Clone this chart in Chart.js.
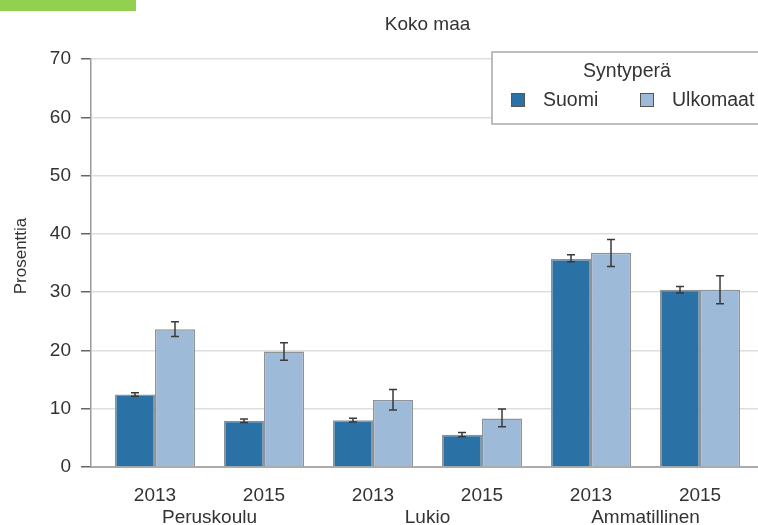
<!DOCTYPE html>
<html>
<head>
<meta charset="utf-8">
<script src="https://cdn.jsdelivr.net/npm/chart.js@4/dist/chart.umd.min.js"></script>
<style>
  html, body { margin: 0; padding: 0; background: #fff; width: 758px; height: 525px; overflow: hidden; }
  #wrap { position: relative; width: 758px; height: 525px; overflow: hidden; }
  #tag { position: absolute; left: 0; top: 0; width: 136px; height: 11px; background: #92d050; z-index: 2; }
  canvas { position: absolute; left: 0; top: 0; }
</style>
</head>
<body>
<div id="wrap">
  <div id="tag"></div>
  <canvas id="c" width="775" height="525"></canvas>
</div>
<script>
// ---- data ----
const chartTitle = 'Koko maa';
const yTitle = 'Prosenttia';
const legendTitle = 'Syntyperä';
const yearLabels = ['2013', '2015', '2013', '2015', '2013', '2015'];
const groupLabels = ['Peruskoulu', 'Lukio', 'Ammatillinen'];
const seriesNames = ['Suomi', 'Ulkomaat'];
const suomiValues = [12.45, 7.95, 8.0, 5.55, 35.7, 30.4];
const suomiLow    = [12.15, 7.65, 7.7, 5.2, 35.2, 29.85];
const suomiHigh   = [12.75, 8.25, 8.35, 5.9, 36.4, 30.95];
const ulkoValues  = [23.65, 19.8, 11.5, 8.3, 36.75, 30.4];
const ulkoLow     = [22.4, 18.3, 9.8, 6.9, 34.4, 28.0];
const ulkoHigh    = [24.9, 21.3, 13.3, 9.95, 39.05, 32.8];
const yTicks = [0, 10, 20, 30, 40, 50, 60, 70];

const colors = ['#2a72a5', '#9dbad8'];
const FONT = "'Liberation Sans', Arial, Helvetica, sans-serif";
Chart.defaults.font.family = FONT;
Chart.defaults.color = '#333';

const positions = yearLabels.map((_, i) => i);
const groupPositions = groupLabels.map((_, g) => g * 2 + 0.5);

function toPoints(vals) { return vals.map((v, i) => ({ x: positions[i], y: v })); }

const errorBars = [
  { low: suomiLow, high: suomiHigh },
  { low: ulkoLow, high: ulkoHigh }
];

const errorPlugin = {
  id: 'errorBars',
  afterDatasetsDraw(chart) {
    const ctx = chart.ctx;
    const ys = chart.scales.y;
    ctx.save();
    ctx.strokeStyle = '#3a3a3a';
    ctx.lineWidth = 1.5;
    chart.data.datasets.forEach((ds, di) => {
      const meta = chart.getDatasetMeta(di);
      meta.data.forEach((bar, i) => {
        const x = bar.x;
        const yl = ys.getPixelForValue(errorBars[di].low[i]);
        const yh = ys.getPixelForValue(errorBars[di].high[i]);
        ctx.beginPath();
        ctx.moveTo(x, yl); ctx.lineTo(x, yh);
        ctx.moveTo(x - 4, yl); ctx.lineTo(x + 4, yl);
        ctx.moveTo(x - 4, yh); ctx.lineTo(x + 4, yh);
        ctx.stroke();
      });
    });
    ctx.restore();
  }
};

const titleCenterPlugin = {
  id: 'titleCenter',
  afterLayout(chart) {
    const tb = chart.titleBlock;
    const ca = chart.chartArea;
    if (tb && ca) {
      tb.left = ca.left; tb.right = ca.right; tb.width = ca.right - ca.left;
    }
  }
};

const yTitlePlugin = {
  id: 'yTitle',
  afterDraw(chart) {
    const ctx = chart.ctx;
    const ca = chart.chartArea;
    ctx.save();
    ctx.translate(21, (ca.top + ca.bottom) / 2 - 7);
    ctx.rotate(-Math.PI / 2);
    ctx.fillStyle = '#333';
    ctx.font = '17px ' + FONT;
    ctx.textAlign = 'center';
    ctx.textBaseline = 'middle';
    ctx.fillText(yTitle, 0, 0);
    ctx.restore();
  }
};

const legendPlugin = {
  id: 'boxLegend',
  afterDraw(chart) {
    const ctx = chart.ctx;
    const ca = chart.chartArea;
    const left = ca.left + 401, top = ca.top - 7;
    const right = ca.right - 2, bottom = ca.top + 65;
    ctx.save();
    ctx.fillStyle = '#fff';
    ctx.fillRect(left, top, right - left, bottom - top);
    ctx.strokeStyle = '#a8a8a8';
    ctx.lineWidth = 1.5;
    ctx.strokeRect(left, top, right - left, bottom - top);
    ctx.fillStyle = '#333';
    ctx.font = '19.5px ' + FONT;
    ctx.textBaseline = 'middle';
    ctx.textAlign = 'center';
    ctx.fillText(legendTitle, (left + right) / 2, top + 20);
    ctx.textAlign = 'left';
    const itemX = [left + 19, left + 148];
    seriesNames.forEach((name, i) => {
      const bx = itemX[i], by = top + 41;
      ctx.fillStyle = colors[i];
      ctx.fillRect(bx, by, 14, 14);
      ctx.strokeStyle = '#555';
      ctx.lineWidth = 1;
      ctx.strokeRect(bx + 0.5, by + 0.5, 13, 13);
      ctx.fillStyle = '#333';
      ctx.fillText(name, bx + 32, by + 7.5);
    });
    ctx.restore();
  }
};

new Chart(document.getElementById('c'), {
  type: 'bar',
  data: {
    datasets: [
      { label: seriesNames[0], data: toPoints(suomiValues), backgroundColor: colors[0], borderColor: '#8e9398', borderWidth: 1.5 },
      { label: seriesNames[1], data: toPoints(ulkoValues), backgroundColor: colors[1], borderColor: '#8e9398', borderWidth: 1.5 }
    ]
  },
  options: {
    responsive: false,
    animation: false,
    devicePixelRatio: 1,
    categoryPercentage: 0.734,
    barPercentage: 1.0,
    layout: { padding: { left: 0, right: 11, top: 0, bottom: 0 } },
    plugins: {
      legend: { display: false },
      tooltip: { enabled: false },
      title: {
        display: true, text: chartTitle, color: '#333',
        font: { size: 19, weight: 'normal' },
        padding: { top: 13, bottom: 23.2 }
      }
    },
    scales: {
      x: {
        type: 'linear', position: 'bottom', offset: false,
        min: -0.587, max: 5.587,
        grid: { display: false, drawTicks: false },
        border: { display: true, color: '#ababab', width: 2 },
        ticks: { autoSkip: false, maxRotation: 0, padding: 17, color: '#333', font: { size: 19 },
                 callback: (v) => yearLabels[v] },
        afterBuildTicks: (s) => { s.ticks = positions.map(v => ({ value: v })); },
        afterFit: (s) => { s.height = 38; }
      },
      x2: {
        type: 'linear', position: 'bottom', offset: false,
        min: -0.587, max: 5.587,
        grid: { display: false, drawTicks: false },
        border: { display: false },
        ticks: { autoSkip: false, maxRotation: 0, padding: 1, color: '#333', font: { size: 19 },
                 callback: (v, i) => groupLabels[i] },
        afterBuildTicks: (s) => { s.ticks = groupPositions.map(v => ({ value: v })); },
        afterFit: (s) => { s.height = 20; }
      },
      y: {
        min: 0, max: 70,
        grid: { color: '#dedede', lineWidth: 1.5, tickColor: '#666', tickLength: 10, drawTicks: true },
        border: { display: true, color: '#9a9a9a', width: 1.5 },
        ticks: { padding: 10, color: '#333', font: { size: 19 } },
        afterBuildTicks: (s) => { s.ticks = yTicks.map(v => ({ value: v })); },
        title: { display: false },
        afterFit: (s) => { s.width = 91; }
      }
    }
  },
  plugins: [errorPlugin, titleCenterPlugin, yTitlePlugin, legendPlugin]
});
</script>
</body>
</html>
